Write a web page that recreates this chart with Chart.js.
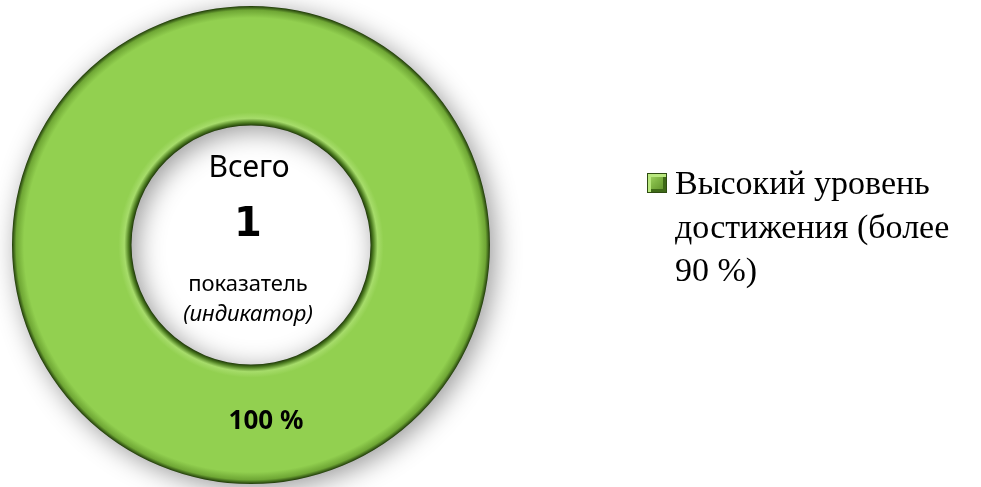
<!DOCTYPE html>
<html>
<head>
<meta charset="utf-8">
<script src="https://cdn.jsdelivr.net/npm/chart.js@4.4.0/dist/chart.umd.min.js"></script>
<style>
  html, body { margin: 0; padding: 0; background: #fff; }
  #wrap { position: relative; width: 981px; height: 487px; }
  #legend { position: absolute; left: 647px; top: 161px; font-family: "Liberation Serif", "Times New Roman", serif;
    font-size: 34px; line-height: 43.5px; color: #000; }
  #legend .item { display: flex; align-items: flex-start; }
  #legend .box { width: 20px; height: 20px; margin: 12px 8px 0 0; flex: none; box-sizing: border-box;
    border: 1px solid #2f4d12;
    background: linear-gradient(135deg, #a9dc6a 0%, #7fb543 45%, #5a8a27 100%);
    box-shadow: inset 3px 3px 0 #b9e87f, inset -3px -3px 0 #3f6a18; }
</style>
</head>
<body>
<div id="wrap">
  <canvas id="donut" width="981" height="487"></canvas>
  <div id="legend"></div>
</div>
<script>
/* ======================================================
   DATA
====================================================== */

const categories = ["Высокий уровень достижения (более 90 %)"];
const legendLines = [["Высокий уровень", "достижения (более", "90 %)"]];
const values = [1];
const valueLabels = ["100 %"];
const centerLines = ["Всего", "1", "показатель", "(индикатор)"];

/* ======================================================
   PLUGINS
====================================================== */

// bevelled fill + soft drop shadow for the ring
const ringStyle = {
  id: "ringStyle",
  beforeDatasetsDraw(chart) {
    const ctx = chart.ctx;
    chart.getDatasetMeta(0).data.forEach(arc => {
      const g = ctx.createRadialGradient(arc.x, arc.y, arc.innerRadius, arc.x, arc.y, arc.outerRadius);
      g.addColorStop(0, "#1f3a08");
      g.addColorStop(0.025, "#4f7f22");
      g.addColorStop(0.06, "#a6dc6a");
      g.addColorStop(0.11, "#92d050");
      g.addColorStop(0.9, "#92d050");
      g.addColorStop(0.965, "#6fa735");
      g.addColorStop(1, "#1f3a08");
      arc.options.backgroundColor = g;
    });
    ctx.save();
    ctx.shadowColor = "rgba(0,0,0,0.4)";
    ctx.shadowBlur = 26;
    ctx.shadowOffsetX = 5;
    ctx.shadowOffsetY = 5;
  },
  afterDatasetsDraw(chart) {
    chart.ctx.restore();
  }
};

const centerText = {
  id: "centerText",
  afterDraw(chart) {
    const ctx = chart.ctx;
    const arc = chart.getDatasetMeta(0).data[0];
    const cx = arc.x, cy = arc.y;
    ctx.save();
    ctx.fillStyle = "#000";
    ctx.textAlign = "center";
    ctx.textBaseline = "middle";

    ctx.font = '30px "Noto Sans", sans-serif';
    ctx.fillText(centerLines[0], cx - 2, cy - 77);
    ctx.font = 'bold 40px "DejaVu Sans", sans-serif';
    ctx.fillText(centerLines[1], cx - 3, cy - 19);
    ctx.font = '22px "Noto Sans", sans-serif';
    ctx.fillText(centerLines[2], cx - 3, cy + 40);
    ctx.font = 'italic 22px "Noto Sans", sans-serif';
    ctx.fillText(centerLines[3], cx - 3, cy + 70);

    // value label on the ring
    const pos = arc.tooltipPosition(true);
    ctx.font = 'bold 26px "Noto Sans", sans-serif';
    ctx.fillText(valueLabels[0], pos.x + 15, pos.y - 3);
    ctx.restore();
  }
};

/* ======================================================
   CHART
====================================================== */

new Chart(document.getElementById("donut"), {
  type: "doughnut",
  data: {
    labels: categories,
    datasets: [{
      data: values,
      backgroundColor: "#92d050",
      borderWidth: 0
    }]
  },
  options: {
    responsive: false,
    animation: false,
    cutout: "50%",
    layout: { padding: { left: 12, right: 491, top: 6, bottom: 3 } },
    plugins: {
      legend: { display: false },
      tooltip: { enabled: false }
    }
  },
  plugins: [ringStyle, centerText]
});

/* ======================================================
   LEGEND
====================================================== */

const legendEl = document.getElementById("legend");
categories.forEach((c, i) => {
  const item = document.createElement("div");
  item.className = "item";
  item.innerHTML = '<span class="box"></span><span>' + legendLines[i].join("<br>") + "</span>";
  legendEl.appendChild(item);
});
</script>
</body>
</html>
